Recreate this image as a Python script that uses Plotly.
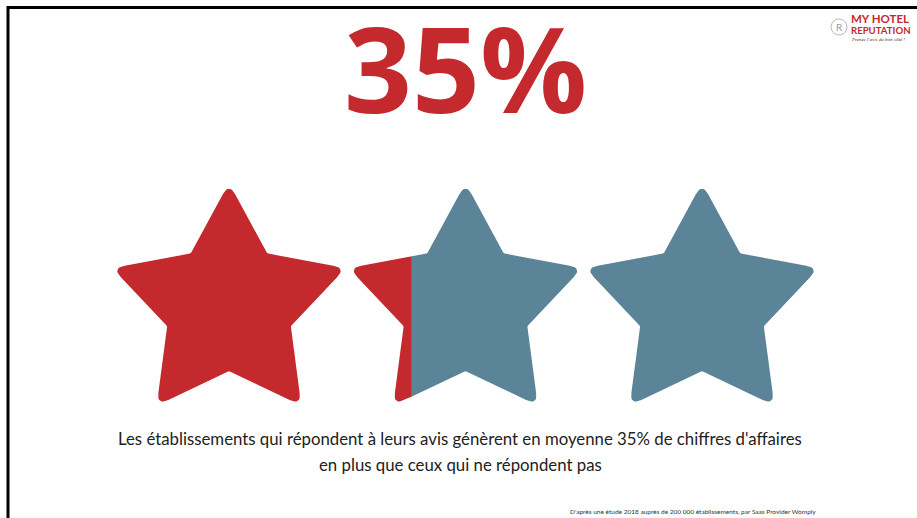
import numpy as np
import plotly.graph_objects as go

# ---------------- data ----------------
headline_value = 35                      # percent shown in title
star_names = ["Étoile 1", "Étoile 2", "Étoile 3"]
star_fill = [1.0, 0.26, 0.0]             # red share of each star (by width)
caption_lines = [
    "Les établissements qui répondent à leurs avis génèrent en moyenne 35% de chiffres d'affaires",
    "en plus que ceux qui ne répondent pas",
]
source_text = "D'après une étude 2018 auprès de 200 000 établissements, par Saas Provider Womply"
logo_lines = ["MY HOTEL", "REPUTATION"]
logo_tagline = "Prenez l'avis du bon côté !"

# ---------------- style ----------------
W, H = 917, 518
RED = "#C4292E"
BLUE = "#5B8499"
STAR_X0, STAR_DX, STAR_CY = 229, 236.5, 306
R_OUT, R_IN, ROUND = 123, 65, 7


def star_polygon(cx, cy):
    pts = []
    for k in range(10):
        ang = -np.pi / 2 + k * np.pi / 5
        r = R_OUT if k % 2 == 0 else R_IN
        pts.append((cx + r * np.cos(ang), cy + r * np.sin(ang)))
    return pts


def round_corners(pts, rad_out, rad_in):
    out = []
    n = len(pts)
    for i in range(n):
        P = np.array(pts[i]); A = np.array(pts[i - 1]); B = np.array(pts[(i + 1) % n])
        rad = rad_out if i % 2 == 0 else rad_in
        u1 = (A - P) / np.linalg.norm(A - P)
        u2 = (B - P) / np.linalg.norm(B - P)
        theta = np.arccos(np.clip(np.dot(u1, u2), -1, 1))
        d = rad / np.tan(theta / 2)
        T1 = P + u1 * d
        T2 = P + u2 * d
        for t in np.linspace(0, 1, 9):
            q = (1 - t) ** 2 * T1 + 2 * (1 - t) * t * P + t ** 2 * T2
            out.append((q[0], q[1]))
    return out


def clip(pts, xc, keep_left):
    def inside(p):
        return p[0] <= xc if keep_left else p[0] >= xc

    res = []
    n = len(pts)
    for i in range(n):
        cur = pts[i]; prev = pts[i - 1]
        if inside(cur):
            if not inside(prev):
                t = (xc - prev[0]) / (cur[0] - prev[0])
                res.append((xc, prev[1] + t * (cur[1] - prev[1])))
            res.append(cur)
        elif inside(prev):
            t = (xc - prev[0]) / (cur[0] - prev[0])
            res.append((xc, prev[1] + t * (cur[1] - prev[1])))
    return res


fig = go.Figure()
for i, (name, f) in enumerate(zip(star_names, star_fill)):
    cx = STAR_X0 + i * STAR_DX
    poly = round_corners(star_polygon(cx, STAR_CY), ROUND, 2)
    xs = [p[0] for p in poly]
    xmin, xmax = min(xs), max(xs)
    xc = xmin + f * (xmax - xmin)
    for part, col in ((clip(poly, xc, True), RED), (clip(poly, xc, False), BLUE)):
        if len(part) < 3:
            continue
        fig.add_trace(go.Scatter(
            x=[p[0] for p in part] + [part[0][0]],
            y=[p[1] for p in part] + [part[0][1]],
            mode="lines", fill="toself", fillcolor=col,
            line=dict(width=0, color=col), name=name, hoverinfo="skip",
            showlegend=False))

ann = []
ann.append(dict(x=465, y=67, text=f"{headline_value}%", showarrow=False,
                font=dict(family="Open Sans", size=119, color=RED, weight=700),
                xanchor="center", yanchor="middle"))
for j, line in enumerate(caption_lines):
    ann.append(dict(x=460, y=438 + j * 26, text=line, showarrow=False,
                    font=dict(family="Lato", size=16.8, color="#222222"),
                    xanchor="center", yanchor="middle"))
ann.append(dict(x=818, y=511, text=source_text, showarrow=False,
                font=dict(family="Lato", size=6.5, color="#333333"),
                xanchor="right", yanchor="middle"))
ann.append(dict(x=849, y=18, text=logo_lines[0], showarrow=False,
                font=dict(family="Lato", size=11.5, color=RED, weight=700),
                xanchor="left", yanchor="middle"))
ann.append(dict(x=849, y=30, text=logo_lines[1], showarrow=False,
                font=dict(family="Lato", size=9.6, color=RED, weight=700),
                xanchor="left", yanchor="middle"))
ann.append(dict(x=849, y=39, text=f"<i>{logo_tagline}</i>", showarrow=False,
                font=dict(family="Liberation Serif", size=5, color="#333333"),
                xanchor="left", yanchor="middle"))
ann.append(dict(x=839, y=27, text="R", showarrow=False,
                font=dict(family="Lato", size=10, color="#999999"),
                xanchor="center", yanchor="middle"))

shapes = [
    dict(type="line", x0=7, x1=W, y0=7.5, y1=7.5, xref="x", yref="y",
         line=dict(color="black", width=3)),
    dict(type="line", x0=8, x1=8, y0=6, y1=H, xref="x", yref="y",
         line=dict(color="black", width=3)),
    dict(type="circle", x0=831, x1=847, y0=19, y1=35, xref="x", yref="y",
         line=dict(color="#BBBBBB", width=1)),
]

fig.update_layout(
    width=W, height=H, margin=dict(l=0, r=0, t=0, b=0),
    paper_bgcolor="white", plot_bgcolor="white",
    xaxis=dict(range=[0, W], visible=False, fixedrange=True),
    yaxis=dict(range=[H, 0], visible=False, fixedrange=True),
    annotations=ann, shapes=shapes, showlegend=False,
)
fig.write_html(
    "out.html",
    config={"displayModeBar": False},
    post_script="document.body.style.margin='0';document.body.style.overflow='hidden';",
)
